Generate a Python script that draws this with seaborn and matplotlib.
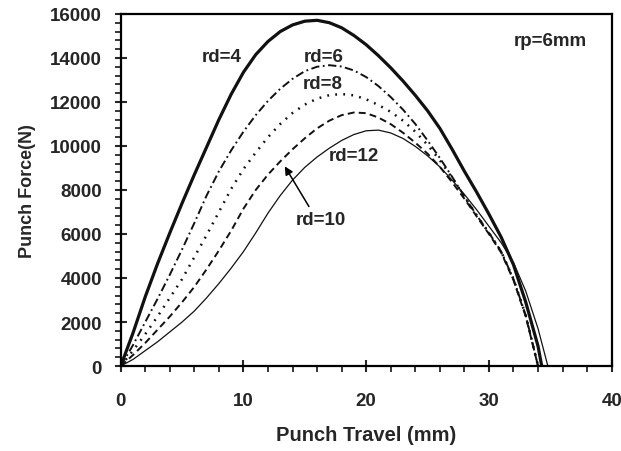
import matplotlib
matplotlib.use("Agg")
import matplotlib.pyplot as plt
import seaborn as sns
import numpy as np
import pandas as pd
from matplotlib.ticker import MultipleLocator

# punch travel (mm) / punch force (N)
travel = [0, 1, 2, 3, 4, 5, 6, 7, 8, 9, 10, 11, 12, 13, 14, 15, 16, 17, 18, 19,
          20, 21, 22, 23, 24, 25, 26, 27, 28, 29, 30, 31, 32, 33, 34]

force_rd4 = [0, 1500, 3150, 4650, 6050, 7400, 8700, 9950, 11200, 12350,
             13350, 14150, 14750, 15200, 15500, 15670, 15710, 15600, 15370, 15020,
             14600, 14100, 13550, 12950, 12300, 11600, 10800, 9850, 8850, 7900,
             6900, 5850, 4600, 2900, 900]
end_rd4 = (34.3, 0)

force_rd6 = [0, 950, 2000, 3050, 4150, 5300, 6500, 7750, 8850, 9800,
             10650, 11400, 12050, 12600, 13050, 13400, 13600, 13670, 13610, 13430,
             13130, 12720, 12220, 11650, 11000, 10250, 9450, 8600, 7700, 6850,
             6050, 5200, 3950, 2300, 0]

force_rd8 = [0, 700, 1450, 2250, 3100, 3950, 4950, 5950, 7000, 8050,
             8950, 9700, 10400, 11000, 11500, 11880, 12150, 12310, 12360, 12300,
             12120, 11860, 11550, 11150, 10650, 10050, 9350, 8550, 7700, 6850,
             6050, 5200, 3950, 2300, 0]

force_rd10 = [0, 500, 1050, 1650, 2250, 2900, 3600, 4400, 5250, 6150,
              7150, 8000, 8700, 9300, 9850, 10350, 10800, 11150, 11400, 11520,
              11490, 11290, 10990, 10600, 10150, 9650, 9050, 8350, 7600, 6800,
              6000, 5150, 3900, 2250, 0]

force_rd12 = [0, 300, 700, 1100, 1550, 2000, 2500, 3100, 3750, 4450,
              5200, 6050, 6950, 7750, 8450, 9030, 9500, 9900, 10250, 10520,
              10690, 10720, 10590, 10340, 9980, 9550, 9050, 8450, 7800, 7100,
              6350, 5600, 4700, 3400, 1700]
end_rd12 = (34.8, 0)

labels = ["rd=4", "rd=6", "rd=8", "rd=10", "rd=12"]


def curve(xs, ys, end=None):
    xs = list(xs)
    ys = list(ys)
    if end is not None:
        xs.append(end[0])
        ys.append(end[1])
    return pd.DataFrame({"travel": xs, "force": ys})


curves = {
    "rd=4": curve(travel, force_rd4, end_rd4),
    "rd=6": curve(travel, force_rd6),
    "rd=8": curve(travel, force_rd8),
    "rd=10": curve(travel, force_rd10),
    "rd=12": curve(travel, force_rd12, end_rd12),
}

sns.set_style("ticks")
plt.rcParams["font.family"] = ["Liberation Sans", "DejaVu Sans"]
plt.rcParams["font.weight"] = "bold"
plt.rcParams["lines.scale_dashes"] = False
plt.rcParams["lines.solid_joinstyle"] = "round"

fig = plt.figure(figsize=(6.21, 4.52), dpi=100)
ax = fig.add_axes([0.1944, 0.188, 0.7906, 0.779])

styles = {
    "rd=4": dict(lw=2.3, dashes=None),
    "rd=6": dict(lw=1.4, dashes=(6, 2.5, 1.3, 2.5)),
    "rd=8": dict(lw=1.8, dashes=(1.3, 4.5)),
    "rd=10": dict(lw=1.4, dashes=(5, 3)),
    "rd=12": dict(lw=0.9, dashes=None),
}

for name in labels:
    st = styles[name]
    sns.lineplot(data=curves[name], x="travel", y="force", ax=ax,
                 color="#111111", lw=st["lw"], sort=False, estimator=None)
    if st["dashes"] is not None:
        ax.lines[-1].set_dashes(st["dashes"])

txt = dict(fontsize=13.5, fontweight="bold", ha="center", va="center")
ax.text(8.2, 14050, "rd=4", **txt)
ax.text(16.5, 14050, "rd=6", **txt)
ax.text(16.5, 12860, "rd=8", **txt)
ax.text(19.0, 9550, "rd=12", **txt)
ax.text(16.3, 6680, "rd=10", **txt)
ax.text(35.0, 14800, "rp=6mm", **txt)
ax.annotate("", xy=(13.25, 9180), xytext=(15.45, 7140),
            arrowprops=dict(arrowstyle="-|>", color="black", lw=1.1,
                            mutation_scale=12))

ax.set_xlim(0, 40)
ax.set_ylim(0, 16000)
ax.xaxis.set_major_locator(MultipleLocator(10))
ax.xaxis.set_minor_locator(MultipleLocator(2))
ax.yaxis.set_major_locator(MultipleLocator(2000))
ax.yaxis.set_minor_locator(MultipleLocator(400))
ax.tick_params(which="major", direction="inout", length=9, width=1.5,
               labelsize=13.5)
ax.tick_params(axis="x", which="major", pad=14)
ax.tick_params(axis="y", which="major", pad=9)
ax.tick_params(which="minor", direction="out", length=4, width=1.3)
for lab in ax.get_xticklabels() + ax.get_yticklabels():
    lab.set_fontweight("bold")

for sp in ax.spines.values():
    sp.set_visible(True)
    sp.set_linewidth(1.6)
    sp.set_color("black")

ax.set_xlabel("Punch Travel (mm)", fontsize=14.5, fontweight="bold", labelpad=12)
ax.set_ylabel("Punch Force(N)", fontsize=13, fontweight="bold", labelpad=10)

fig.savefig("out.png", dpi=100, facecolor="white")
